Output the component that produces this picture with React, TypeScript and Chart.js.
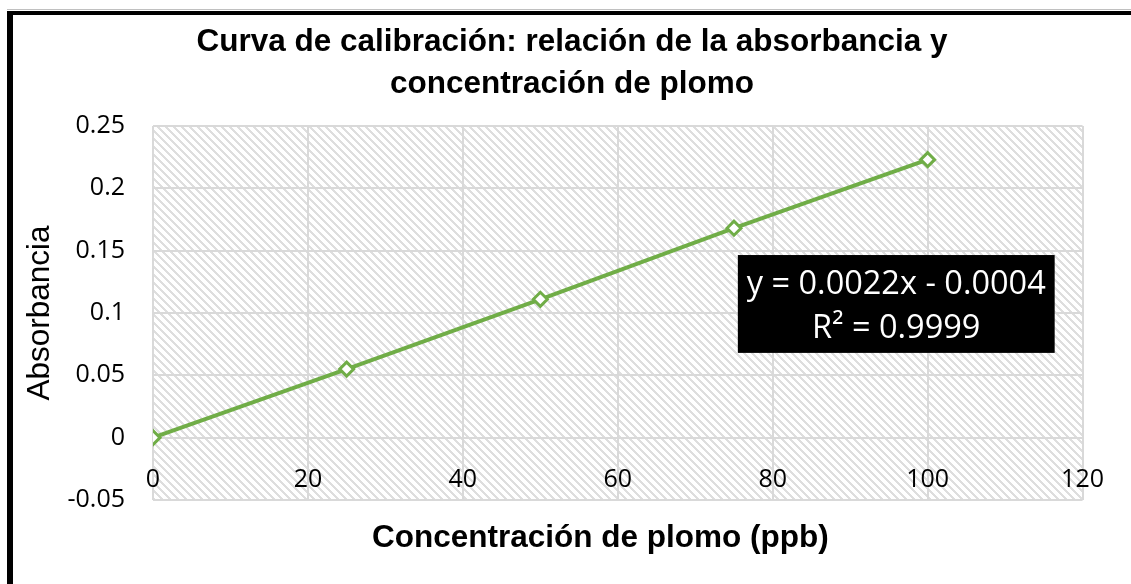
import React, { useEffect, useRef } from "react";
import { Chart, registerables } from "chart.js";

Chart.register(...registerables);

// ---- data ----
const TITLE_LINES = [
  "Curva de calibración: relación de la absorbancia y",
  "concentración de plomo",
];
const X_TITLE = "Concentración de plomo (ppb)";
const Y_TITLE = "Absorbancia";
const CONCENTRATION = [0, 25, 50, 75, 100];
const ABSORBANCE = [0, 0.055, 0.111, 0.168, 0.223];
const X_TICKS = [0, 20, 40, 60, 80, 100, 120];
const Y_TICKS = [-0.05, 0, 0.05, 0.1, 0.15, 0.2, 0.25];
const EQUATION_LINES = ["y = 0.0022x - 0.0004", "R² = 0.9999"];
// equation box corners, in data units
const EQUATION_BOX_X = [75.5, 116.4];
const EQUATION_BOX_Y = [0.1465, 0.068];

const ARIAL = "'Liberation Sans', Arial, sans-serif";
const CALIBRI_LIKE = "'Open Sans', sans-serif";

function makeHatch(ctx: CanvasRenderingContext2D) {
  const c = document.createElement("canvas");
  c.width = 8;
  c.height = 8;
  const g = c.getContext("2d")!;
  g.fillStyle = "#ffffff";
  g.fillRect(0, 0, 8, 8);
  g.fillStyle = "#dedede";
  for (let y = 0; y < 8; y++) {
    for (let k = 0; k < 3; k++) g.fillRect((y + k) % 8, y, 1, 1);
  }
  return ctx.createPattern(c, "repeat");
}

const hatchPlugin = {
  id: "hatchBg",
  beforeDraw(chart: any) {
    const { ctx, chartArea: a } = chart;
    const p = makeHatch(ctx);
    if (!p) return;
    ctx.save();
    ctx.fillStyle = p;
    ctx.fillRect(a.left, a.top, a.right - a.left, a.bottom - a.top);
    ctx.restore();
  },
};

const equationPlugin = {
  id: "equationBox",
  afterDatasetsDraw(chart: any) {
    const { ctx } = chart;
    const x = chart.scales.x;
    const y = chart.scales.y;
    const l = x.getPixelForValue(EQUATION_BOX_X[0]);
    const r = x.getPixelForValue(EQUATION_BOX_X[1]);
    const t = y.getPixelForValue(EQUATION_BOX_Y[0]);
    const b = y.getPixelForValue(EQUATION_BOX_Y[1]);
    const h = b - t;
    ctx.save();
    ctx.fillStyle = "#000000";
    ctx.fillRect(l, t, r - l, h);
    ctx.fillStyle = "#ffffff";
    ctx.font = `32.5px ${CALIBRI_LIKE}`;
    ctx.textAlign = "center";
    ctx.textBaseline = "middle";
    const cx = (l + r) / 2;
    ctx.fillText(EQUATION_LINES[0], cx, t + h * 0.3);
    ctx.fillText(EQUATION_LINES[1], cx, t + h * 0.755);
    ctx.restore();
  },
};

export default function App() {
  const ref = useRef<HTMLCanvasElement>(null);

  useEffect(() => {
    if (!ref.current) return;
    const tickFont = { family: CALIBRI_LIKE, size: 25 };
    const chart = new Chart(ref.current, {
      type: "scatter",
      data: {
        datasets: [
          {
            data: CONCENTRATION.map((c, i) => ({ x: c, y: ABSORBANCE[i] })),
            showLine: true,
            borderColor: "#70AD47",
            borderWidth: 4,
            pointStyle: "rectRot",
            pointRadius: 7,
            pointBorderWidth: 3,
            pointBackgroundColor: "#ffffff",
            pointBorderColor: "#70AD47",
            xAxisID: "x",
            yAxisID: "y",
          },
        ],
      },
      options: {
        animation: false,
        responsive: false,
        devicePixelRatio: 1,
        layout: { padding: 0 },
        plugins: {
          legend: { display: false },
          tooltip: { enabled: false },
          title: {
            display: true,
            text: TITLE_LINES,
            color: "#000000",
            font: { family: ARIAL, size: 31.5, weight: "bold", lineHeight: "42px" },
            padding: { top: 6, bottom: 21 },
          },
        },
        scales: {
          x: {
            type: "linear",
            position: "bottom",
            min: 0,
            max: 120,
            afterBuildTicks: (s: any) => {
              s.ticks = X_TICKS.map((v) => ({ value: v }));
            },
            afterFit: (s: any) => {
              s.height = 84;
            },
            ticks: { display: false },
            grid: { color: "#d9d9d9", lineWidth: 2, drawTicks: false },
            border: { display: false },
            title: {
              display: true,
              text: X_TITLE + "\u00A0\u00A0\u00A0\u00A0",
              color: "#000000",
              font: { family: ARIAL, size: 31.5, weight: "bold", lineHeight: 1.2 },
              padding: { top: 0, bottom: 27 },
            },
          },
          xl: {
            type: "linear",
            axis: "x",
            position: { y: 0 },
            min: 0,
            max: 120,
            afterBuildTicks: (s: any) => {
              s.ticks = X_TICKS.map((v) => ({ value: v }));
            },
            ticks: {
              font: tickFont,
              color: "#000000",
              padding: 27,
              maxRotation: 0,
              autoSkip: false,
              callback: (v: any) => String(v),
            },
            grid: { display: false, drawTicks: false },
            border: { display: false },
          },
          y: {
            type: "linear",
            position: "left",
            min: -0.05,
            max: 0.25,
            afterBuildTicks: (s: any) => {
              s.ticks = Y_TICKS.map((v) => ({ value: v }));
            },
            afterFit: (s: any) => {
              s.width = 140;
            },
            ticks: {
              font: tickFont,
              color: "#000000",
              padding: 28,
              autoSkip: false,
              callback: (v: any) => String(v),
            },
            grid: { color: "#d9d9d9", lineWidth: 2, drawTicks: false },
            border: { display: false },
            title: {
              display: true,
              text: Y_TITLE,
              color: "#000000",
              font: { family: ARIAL, size: 31.5, lineHeight: 1.2 },
              padding: { top: 8, bottom: 0 },
            },
          },
          // empty right-hand gutter so the title stays centred on the whole chart
          gutter: {
            type: "linear",
            axis: "y",
            position: "right",
            min: -0.05,
            max: 0.25,
            afterFit: (s: any) => {
              s.width = 45;
            },
            ticks: { display: false },
            grid: { display: false, drawTicks: false },
            border: { display: false },
          },
        },
      } as any,
      plugins: [hatchPlugin, equationPlugin],
    });
    return () => chart.destroy();
  }, []);

  return (
    <>
      <div
        style={{
          position: "absolute",
          left: 7,
          top: 9,
          width: 1124,
          height: 1,
          background: "#c0c0c0",
        }}
      />
      <div
        style={{
          position: "absolute",
          left: 7,
          top: 11,
          width: 1124,
          height: 573,
          boxSizing: "border-box",
          borderLeft: "6px solid #000",
          borderTop: "4px solid #000",
          overflow: "hidden",
          background: "#ffffff",
        }}
      >
        <canvas ref={ref} width={1118} height={569} style={{ display: "block" }} />
      </div>
    </>
  );
}
